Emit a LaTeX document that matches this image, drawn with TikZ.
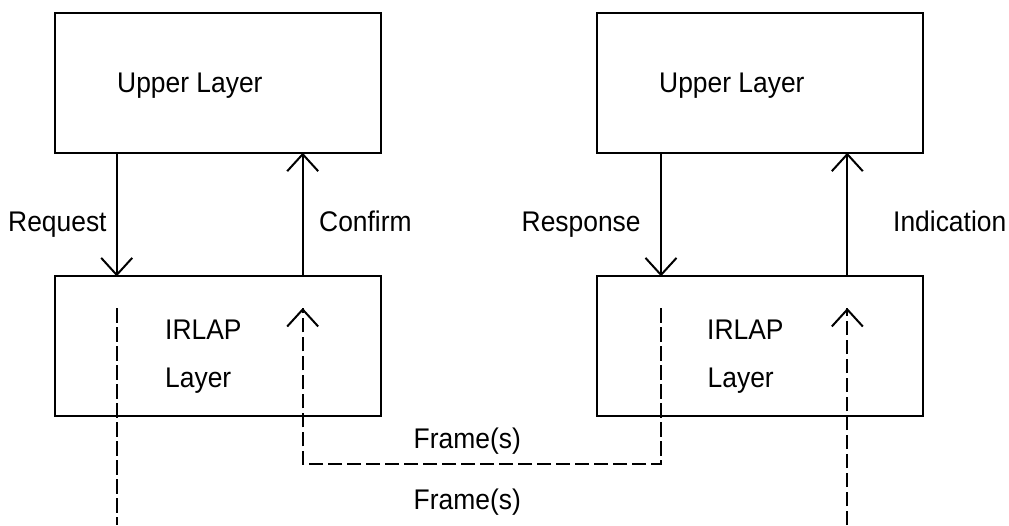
\documentclass[tikz,border=0pt]{standalone}
\usepackage{fontspec}
\setmainfont{Liberation Sans}[FakeStretch=0.93]
\usetikzlibrary{arrows.meta,calc}
\begin{document}
\begin{tikzpicture}[x=1pt,y=-1pt,
  box/.style={draw,line width=2pt,minimum width=326pt,minimum height=140pt,inner sep=0pt,outer sep=0pt},
  lbl/.style={anchor=base west,inner sep=0pt,font=\fontsize{28.4}{32}\selectfont},
  conn/.style={line width=2pt},
  arr/.style={conn,-{Straight Barb[length=17pt,width=31pt,line width=2pt]}},
  dsh/.style={conn,dash pattern=on 14.5pt off 4.5pt}]
\useasboundingbox (0,0) rectangle (1009,525);
% boxes
\node[box] (ul) at (218,82.7) {};
\node[box] (ll) at (218,346.4) {};
\node[box] (ur) at (760.3,82.7) {};
\node[box] (lr) at (760.3,346.4) {};
% x positions of connectors
\coordinate (xa) at (116.7,0);
\coordinate (xb) at (302.7,0);
\coordinate (xc) at (661,0);
\coordinate (xd) at (847.3,0);
\coordinate (ya) at (0,308);
\coordinate (yb) at (0,464);
\coordinate (yc) at (0,525);
% solid connectors
\draw[arr] (ul.south -| xa) -- (ll.north -| xa);
\draw[arr] (ll.north -| xb) -- (ul.south -| xb);
\draw[arr] (ur.south -| xc) -- (lr.north -| xc);
\draw[arr] (lr.north -| xd) -- (ur.south -| xd);
% dashed connectors
\coordinate (a1) at (xa |- ya);
\coordinate (a2) at (xa |- yc);
\coordinate (b1) at (xb |- ya);
\coordinate (b2) at (xb |- yb);
\coordinate (c1) at (xc |- ya);
\coordinate (c2) at (xc |- yb);
\coordinate (d1) at (xd |- ya);
\coordinate (d2) at (xd |- yc);
\draw[dsh] (a1) -- (a2);
\draw[dsh] (c1) -- (c2) -- (b2) -- (b1);
\draw[dsh] (d2) -- (d1);
\draw[arr] ($(b1)+(0,0.1)$) -- (b1);
\draw[arr] ($(d1)+(0,0.1)$) -- (d1);
% labels
\node[lbl] (t1) at (117,92) {Upper Layer};
\node[lbl] (t2) at (659,92) {Upper Layer};
\node[lbl] (t3) at (8,231) {Request};
\node[lbl] (t4) at (319,231.5) {Confirm};
\node[lbl] (t5) at (521.5,231) {Response};
\node[lbl] (t6) at (893,231.5) {Indication};
\node[lbl] (t7) at (165,339.5) {IRLAP};
\node[lbl] (t8) at (165,387.3) {Layer};
\node[lbl] (t9) at (707,339.5) {IRLAP};
\node[lbl] (t10) at (707.5,387) {Layer};
\node[lbl] (t11) at (413.5,448.3) {Frame(s)};
\node[lbl] (t12) at (413.5,509.3) {Frame(s)};
\end{tikzpicture}
\end{document}
